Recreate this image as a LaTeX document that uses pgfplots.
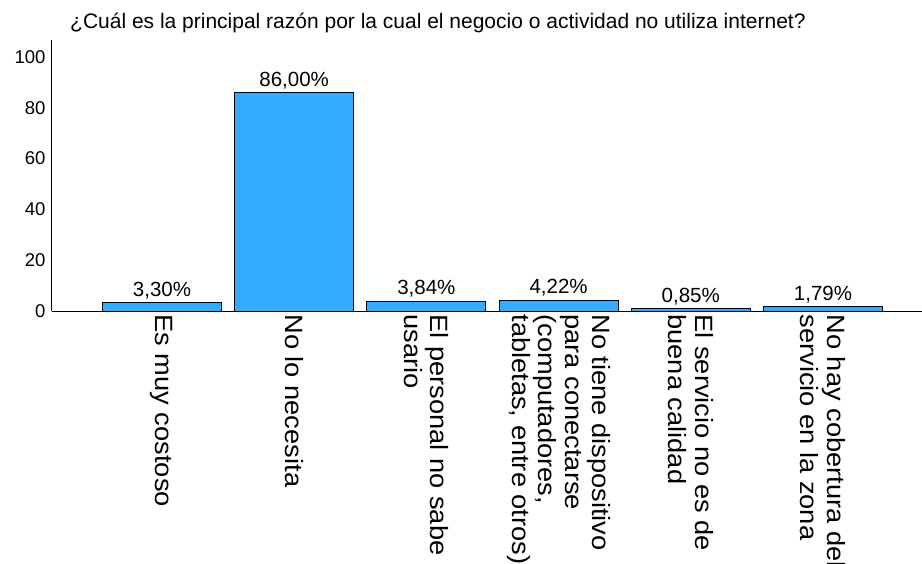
\documentclass[border=0pt]{standalone}
\usepackage{fontspec}
\setmainfont{Liberation Sans}
\newfontfamily\widefont[FakeStretch=1.09]{Liberation Sans}
\usepackage{pgfplots}
\pgfplotsset{compat=1.18}
\definecolor{barblue}{RGB}{51,172,255}
\begin{document}
\begin{tikzpicture}
\begin{axis}[
  scale only axis, width=870pt, height=271pt,
  xmin=-0.832, xmax=5.749, ymin=0, ymax=106.7,
  axis lines*=left,
  axis line style={line width=1pt},
  ytick={0,20,...,100},
  major tick length=0pt,
  yticklabel style={font=\fontsize{18.5}{20}\selectfont, xshift=-3pt},
  /pgf/number format/assume math mode=true,
  xtick={0,...,5},
  xticklabels={{Es muy costoso},{No lo necesita},{El personal no sabe\\usario},{No tiene dispositivo\\para conectarse\\(computadores,\\tabletas, entre otros)},{El servicio no es de\\buena calidad},{No hay cobertura del\\servicio en la zona}},
  xticklabel style={rotate=-90, anchor=west, align=left, font=\widefont\fontsize{25}{26.7}\selectfont},
  ybar, bar width=0.9,
  nodes near coords, point meta=explicit symbolic,
  nodes near coords style={font=\fontsize{20.5}{22}\selectfont, anchor=south},
]
\addplot[fill=barblue, draw=black, line width=1pt] coordinates {
  (0,3.30) [3,30\%]
  (1,86.00) [86,00\%]
  (2,3.84) [3,84\%]
  (3,4.22) [4,22\%]
  (4,0.85) [0,85\%]
  (5,1.79) [1,79\%]
};
\end{axis}
\node[anchor=base west, inner sep=0pt, font=\fontsize{21}{23}\selectfont] at (18pt,282pt) {¿Cuál es la principal razón por la cual el negocio o actividad no utiliza internet?};
\pgfresetboundingbox
\path[use as bounding box] (-52pt,-252pt) rectangle (870pt,311pt);
\end{tikzpicture}
\end{document}
